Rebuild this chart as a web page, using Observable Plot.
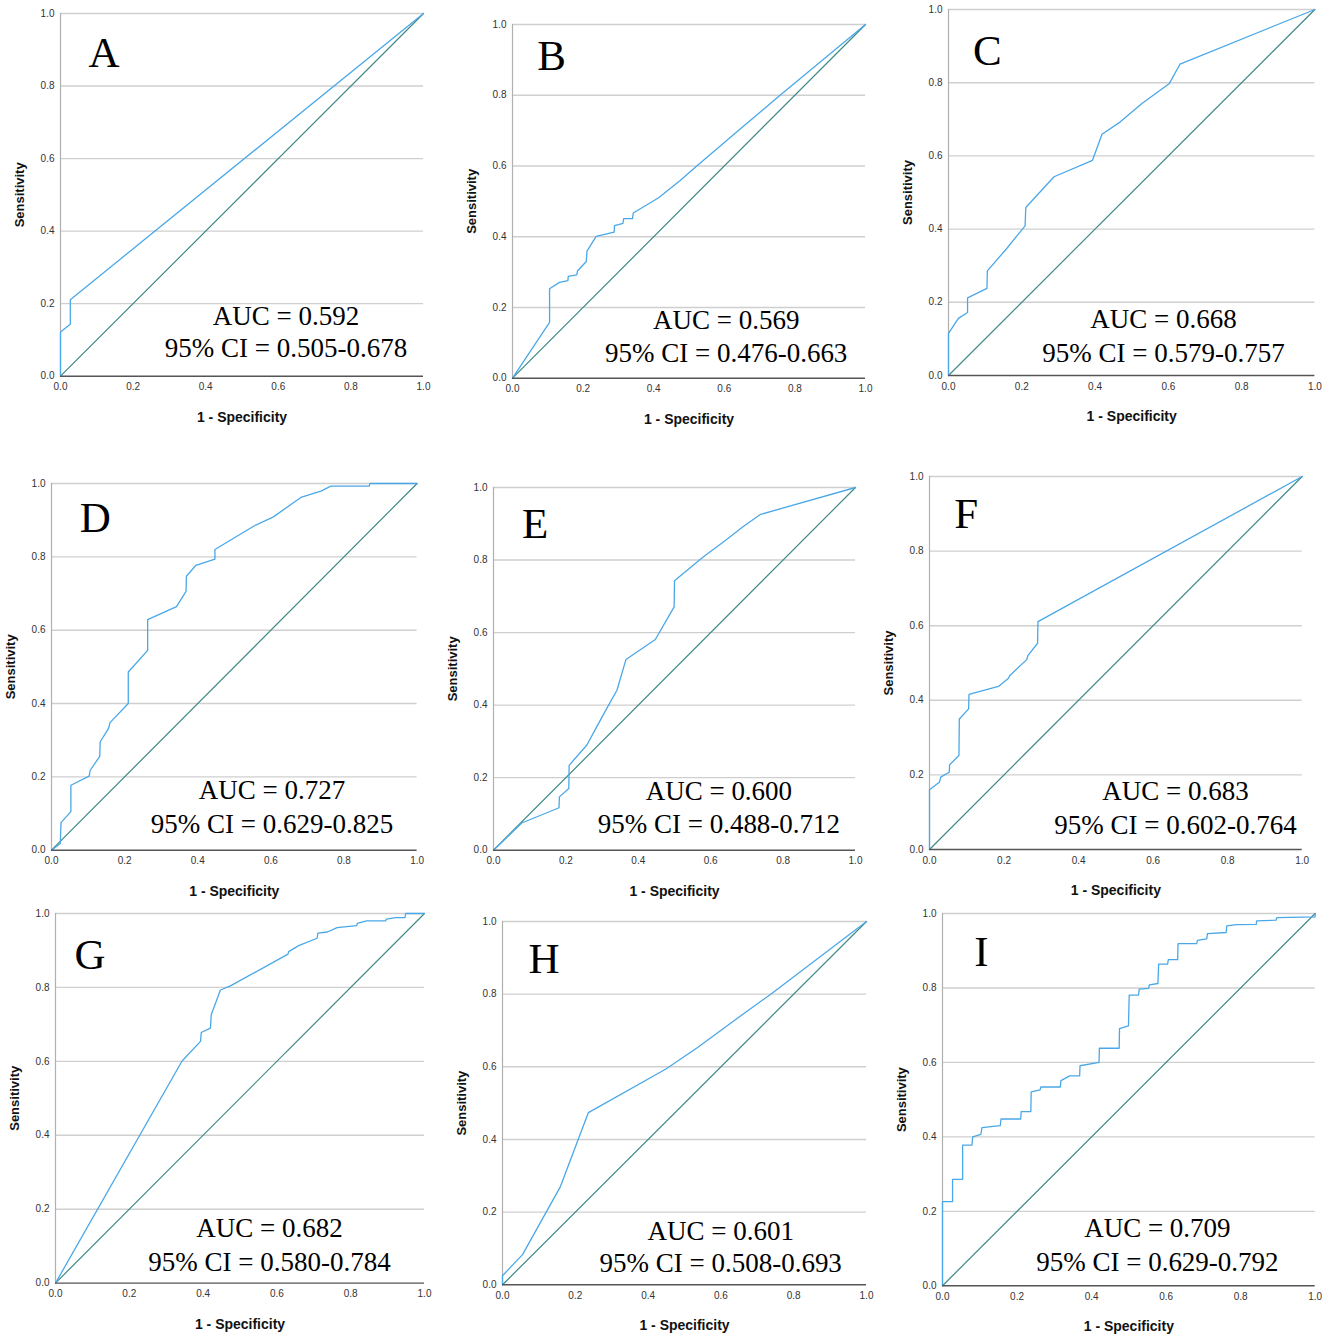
<!DOCTYPE html>
<html>
<head>
<meta charset="utf-8">
<script src="https://cdn.jsdelivr.net/npm/d3@7"></script>
<script src="https://cdn.jsdelivr.net/npm/@observablehq/plot@0.6"></script>
<style>
  html, body { margin: 0; padding: 0; background: #fff; }
  #root { position: relative; width: 1330px; height: 1336px; overflow: hidden; background: #fff; }
  #root svg { position: absolute; }
</style>
</head>
<body>
<div id="root"></div>
<script>
// ---------- data (1 - specificity, sensitivity) ----------
const panelLetters = ["A", "B", "C", "D", "E", "F", "G", "H", "I"];
const aucValues = ["0.592", "0.569", "0.668", "0.727", "0.600", "0.683", "0.682", "0.601", "0.709"];
const ciValues = ["0.505-0.678", "0.476-0.663", "0.579-0.757", "0.629-0.825", "0.488-0.712", "0.602-0.764", "0.580-0.784", "0.508-0.693", "0.629-0.792"];
const tickValues = [0, 0.2, 0.4, 0.6, 0.8, 1.0];
const referenceLine = [[0, 0], [1, 1]];

const rocA = [[0,0],[0,0.122],[0.027,0.143],[0.027,0.211],[1,1]];
const rocB = [[0,0],[0.105,0.158],[0.105,0.253],[0.133,0.271],[0.157,0.276],[0.158,0.288],[0.182,0.292],[0.184,0.303],[0.209,0.330],[0.211,0.359],[0.237,0.401],[0.288,0.413],[0.289,0.431],[0.313,0.438],[0.315,0.451],[0.340,0.451],[0.342,0.467],[0.414,0.510],[0.475,0.559],[0.522,0.600],[0.640,0.700],[0.758,0.800],[1,1]];
const rocC = [[0,0],[0,0.115],[0.027,0.156],[0.052,0.172],[0.052,0.212],[0.105,0.238],[0.106,0.286],[0.159,0.347],[0.209,0.409],[0.211,0.459],[0.288,0.543],[0.393,0.588],[0.419,0.659],[0.469,0.693],[0.528,0.743],[0.603,0.798],[0.632,0.851],[1,1]];
const rocD = [[0,0],[0.024,0.018],[0.026,0.075],[0.053,0.105],[0.053,0.177],[0.103,0.202],[0.106,0.218],[0.132,0.256],[0.133,0.295],[0.156,0.332],[0.160,0.348],[0.210,0.400],[0.210,0.486],[0.263,0.545],[0.263,0.629],[0.342,0.664],[0.368,0.706],[0.369,0.747],[0.395,0.777],[0.447,0.794],[0.447,0.820],[0.554,0.884],[0.607,0.909],[0.682,0.962],[0.737,0.979],[0.764,0.993],[0.869,0.993],[0.871,1.0],[1,1]];
const rocE = [[0,0],[0.078,0.075],[0.181,0.117],[0.182,0.147],[0.208,0.170],[0.209,0.234],[0.258,0.290],[0.285,0.340],[0.313,0.391],[0.341,0.441],[0.366,0.526],[0.447,0.581],[0.499,0.671],[0.500,0.743],[0.580,0.809],[0.635,0.850],[0.691,0.893],[0.738,0.926],[1,1]];
const rocF = [[0,0],[0,0.160],[0.027,0.181],[0.030,0.194],[0.053,0.207],[0.054,0.227],[0.079,0.252],[0.080,0.350],[0.105,0.377],[0.106,0.416],[0.185,0.437],[0.212,0.459],[0.215,0.466],[0.261,0.509],[0.264,0.520],[0.290,0.553],[0.291,0.611],[1,1]];
const rocG = [[0,0],[0.343,0.601],[0.393,0.654],[0.395,0.678],[0.420,0.690],[0.422,0.726],[0.447,0.793],[0.474,0.804],[0.630,0.890],[0.632,0.897],[0.659,0.913],[0.709,0.933],[0.711,0.947],[0.737,0.950],[0.763,0.962],[0.816,0.967],[0.818,0.973],[0.843,0.980],[0.894,0.980],[0.897,0.985],[0.921,0.989],[0.947,0.989],[0.949,1.0],[1,1]];
const rocH = [[0,0],[0,0.025],[0.055,0.083],[0.158,0.268],[0.236,0.474],[0.449,0.594],[0.536,0.653],[0.636,0.727],[0.737,0.800],[1,1]];
const rocI = [[0,0],[0,0.226],[0.027,0.226],[0.027,0.286],[0.054,0.286],[0.054,0.378],[0.079,0.378],[0.081,0.400],[0.103,0.407],[0.106,0.425],[0.155,0.430],[0.157,0.448],[0.210,0.448],[0.211,0.468],[0.237,0.468],[0.238,0.521],[0.262,0.526],[0.264,0.534],[0.316,0.534],[0.318,0.551],[0.341,0.564],[0.368,0.564],[0.369,0.591],[0.420,0.600],[0.421,0.638],[0.474,0.638],[0.475,0.691],[0.499,0.698],[0.501,0.781],[0.526,0.781],[0.528,0.797],[0.553,0.799],[0.555,0.808],[0.578,0.812],[0.580,0.864],[0.604,0.864],[0.606,0.876],[0.631,0.876],[0.632,0.919],[0.682,0.919],[0.684,0.928],[0.709,0.932],[0.711,0.946],[0.761,0.949],[0.763,0.967],[0.788,0.970],[0.842,0.971],[0.843,0.980],[0.895,0.982],[0.897,0.989],[1,0.991],[1,1]];
const rocSeries = [rocA, rocB, rocC, rocD, rocE, rocF, rocG, rocH, rocI];

// ---------- layout (pixel frame of each panel + annotation offsets) ----------
// [left, top, right, bottom, letterDx, letterDy, textCx, aucFromBottom, ciFromBottom]
const layout = [
  [60, 13.3, 423, 376, 28, 53.7, 225.5, 51, 19],
  [512, 24, 865, 377.7, 24.7, 45.3, 213.7, 49.4, 16],
  [948.3, 9.3, 1314.7, 375.3, 24.4, 55.7, 215, 47, 13.6],
  [50.7, 483.3, 416.3, 850, 28.3, 48.4, 220.5, 50.7, 16.7],
  [493.3, 487.3, 855.3, 850, 28.4, 50.4, 225.4, 50, 16.7],
  [929.3, 476, 1302, 849, 24.7, 51.7, 246, 49.7, 15.7],
  [55, 912.7, 424, 1282.3, 19, 56, 214, 45.6, 12.3],
  [501.7, 920.7, 865.7, 1284, 26, 51.6, 218.2, 44.7, 12.3],
  [942.3, 912.7, 1315, 1285, 31.7, 53, 214.9, 48.3, 15]
];

const ML = 55, MT = 8, MR = 15, MB = 52;
const serif = "'Liberation Serif', 'Times New Roman', serif";
const sans = "'Liberation Sans', Arial, Helvetica, sans-serif";
const root = document.getElementById("root");

panelLetters.forEach((letter, i) => {
  const [L, T, R, B, ldx, ldy, cx, aucB, ciB] = layout[i];
  const fw = R - L, fh = B - T;
  const data = rocSeries[i];
  const svg = Plot.plot({
    width: ML + fw + MR,
    height: MT + fh + MB,
    marginLeft: ML, marginTop: MT, marginRight: MR, marginBottom: MB,
    x: {domain: [0, 1]},
    y: {domain: [0, 1]},
    style: {fontFamily: sans, fontSize: "10px", color: "#333", background: "transparent", overflow: "visible"},
    marks: [
      Plot.ruleY(tickValues.filter(d => d > 0), {stroke: "#cfcfcf", strokeWidth: 1.4}),
      Plot.ruleX([0], {stroke: "#b0b0b0", strokeWidth: 1.2}),
      Plot.axisX({ticks: tickValues, tickFormat: d3.format(".1f"), tickSize: 0, tickPadding: 7, label: null, fill: "#333"}),
      Plot.axisY({ticks: tickValues, tickFormat: d3.format(".1f"), tickSize: 0, tickPadding: 6, label: null, fill: "#333"}),
      Plot.line(referenceLine, {x: d => d[0], y: d => d[1], stroke: "#3f8985", strokeWidth: 1.2}),
      Plot.line(data, {x: d => d[0], y: d => d[1], stroke: "#4aa8e8", strokeWidth: 1.3}),
      Plot.ruleY([0], {stroke: "#555", strokeWidth: 1.4}),
      Plot.text([letter], {text: d => d, frameAnchor: "top-left", dx: ldx, dy: ldy, textAnchor: "start", lineAnchor: "bottom", fontFamily: serif, fontSize: 43, fill: "#000"}),
      Plot.text(["AUC = " + aucValues[i]], {text: d => d, frameAnchor: "bottom-left", dx: cx, dy: -aucB, textAnchor: "middle", lineAnchor: "bottom", fontFamily: serif, fontSize: 27, fill: "#000"}),
      Plot.text(["95% CI = " + ciValues[i]], {text: d => d, frameAnchor: "bottom-left", dx: cx, dy: -ciB, textAnchor: "middle", lineAnchor: "bottom", fontFamily: serif, fontSize: 27, fill: "#000"}),
      Plot.text(["Sensitivity"], {text: d => d, frameAnchor: "left", dx: -41, rotate: -90, textAnchor: "middle", lineAnchor: "middle", fontFamily: sans, fontSize: 13, fontWeight: "bold", fill: "#111"}),
      Plot.text(["1 - Specificity"], {text: d => d, frameAnchor: "bottom", dy: 41, textAnchor: "middle", lineAnchor: "middle", fontFamily: sans, fontSize: 14, fontWeight: "bold", fill: "#111"})
    ]
  });
  svg.style.left = (L - ML) + "px";
  svg.style.top = (T - MT) + "px";
  root.appendChild(svg);
});
</script>
</body>
</html>
